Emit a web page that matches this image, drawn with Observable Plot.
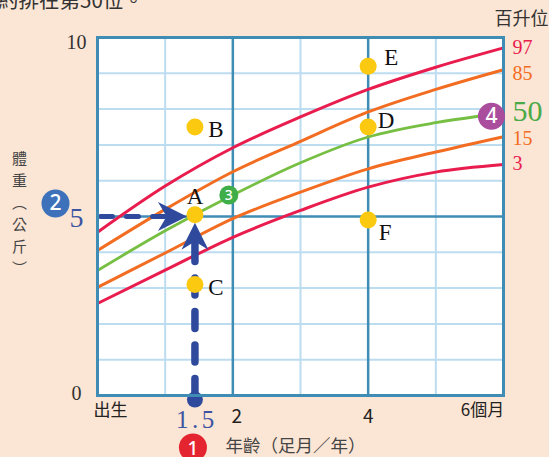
<!DOCTYPE html>
<html><head><meta charset="utf-8">
<script src="https://cdn.jsdelivr.net/npm/d3@7"></script>
<script src="https://cdn.jsdelivr.net/npm/@observablehq/plot@0.6"></script>
<style>
html,body{margin:0;padding:0;background:#fbe5d4;}
#chart{width:549px;height:457px;overflow:hidden;}
.ls text{letter-spacing:3.5px;}
</style></head><body><div id="chart"></div>
<script>
// ---- data ----
const months = [0, 1, 2, 3, 4, 5, 6];
const p97 = [4.56, 5.85, 6.92, 7.78, 8.55, 9.17, 9.71];
const p85 = [4.05, 5.2, 6.25, 7.1, 7.92, 8.55, 9.1];
const p50Months = [0, 1, 2, 3, 4, 5, 5.63];
const p50 = [3.49, 4.6, 5.6, 6.5, 7.22, 7.62, 7.8];
const p15 = [3.02, 3.98, 4.94, 5.68, 6.33, 6.8, 7.23];
const p3 = [2.57, 3.5, 4.42, 5.17, 5.82, 6.24, 6.45];
const pctNames = ["97", "85", "50", "15", "3"];

const pointLabels = ["A", "B", "C", "D", "E", "F"];
const pointMonths = [1.44, 1.44, 1.44, 4, 4, 4];
const pointWeights = [5.05, 7.5, 3.1, 7.5, 9.2, 4.9];

const xTickValues = [0, 2, 4, 6];
const xTickLabels = ["出生", "2", "4", "6個月"];
const yTickLabels = ["0", "10"];
const yTitleChars = ["體", "重", "︵", "公", "斤", "︶"];
const minorMonths = [1, 3, 5];
const majorMonths = [2, 4];
const minorKg = [1, 2, 3, 4, 6, 7, 8, 9];
const majorKg = [5];

// ---- styles ----
const RED = "#e91c4e", ORANGE = "#f26d21", GREEN = "#77bf43";
const NAVY = "#2f4a9c", BLUE5 = "#3d54a3";
const LIGHT = "#bcdcf0", DARK = "#3f8cb5";
const CJK = "'Noto Sans CJK TC','Noto Sans CJK SC',sans-serif";
const SERIF = "'Liberation Serif','DejaVu Serif',serif";

const series = [
  {name: pctNames[0], xs: months, ys: p97, color: RED, w: 3, dy: 0},
  {name: pctNames[1], xs: months, ys: p85, color: ORANGE, w: 3, dy: 4},
  {name: pctNames[2], xs: p50Months, ys: p50, color: GREEN, w: 2.8, dy: -5},
  {name: pctNames[3], xs: months, ys: p15, color: ORANGE, w: 3, dy: 2},
  {name: pctNames[4], xs: months, ys: p3, color: RED, w: 3, dy: -1}
];

const A = {x: pointMonths[0], y: pointWeights[0]};
const points = pointLabels.map((l, i) => ({label: l, x: pointMonths[i], y: pointWeights[i]}));
const labelOffsets = {A: [0, -18], B: [21, 3], C: [21, 3], D: [18, -6], E: [23, -9], F: [17, 13]};
const xTickOffsets = {"出生": [13, 15], "2": [4, 21], "4": [0, 21], "6個月": [-21, 15]};

const arrowHead = {
  draw(ctx, l) {
    const w = l * 0.5;
    ctx.moveTo(0, -l);
    ctx.lineTo(w, 0);
    ctx.lineTo(0, -l * 0.3);
    ctx.lineTo(-w, 0);
    ctx.closePath();
  }
};

const marks = [];
marks.push(Plot.frame({fill: "white", stroke: "none"}));
marks.push(Plot.ruleX(minorMonths, {stroke: LIGHT, strokeWidth: 2}));
marks.push(Plot.ruleY(minorKg, {stroke: LIGHT, strokeWidth: 2}));
marks.push(Plot.ruleX(majorMonths, {stroke: DARK, strokeWidth: 2.5}));
marks.push(Plot.ruleY(majorKg, {stroke: DARK, strokeWidth: 2.5}));

for (const s of series) {
  const rows = s.xs.map((x, i) => ({x, y: s.ys[i]}));
  marks.push(Plot.line(rows, {x: "x", y: "y", stroke: s.color, strokeWidth: s.w, curve: "monotone-x"}));
}

// dashed guides
marks.push(Plot.line([{x: 0, y: 5}, {x: A.x - 0.45, y: 5}], {
  x: "x", y: "y", stroke: NAVY, strokeWidth: 5, strokeDasharray: "12,14", strokeDashoffset: -3
}));
marks.push(Plot.line([{x: A.x, y: 0}, {x: A.x, y: A.y - 0.75}], {
  x: "x", y: "y", stroke: NAVY, strokeWidth: 7.5, strokeDasharray: "17,16.5"
}));
marks.push(Plot.vector([A], {x: "x", y: 5, rotate: 90, length: 29, anchor: "end", shape: arrowHead, fill: NAVY, stroke: "none", dx: -8}));
marks.push(Plot.vector([A], {x: "x", y: "y", rotate: 0, length: 27, anchor: "end", shape: arrowHead, fill: NAVY, stroke: "none", dy: 8}));
marks.push(Plot.dot([A], {x: "x", y: 0, r: 8, fill: NAVY, stroke: "none", dy: 4}));

// points
marks.push(Plot.dot(points, {x: "x", y: "y", r: 8.5, fill: "#fcc911", stroke: "none"}));
for (const p of points) {
  const [dx, dy] = labelOffsets[p.label];
  marks.push(Plot.text([p], {x: "x", y: "y", text: "label", dx, dy, fontSize: 23, fontFamily: SERIF, fill: "#111", textAnchor: "middle", lineAnchor: "middle"}));
}

marks.push(Plot.frame({stroke: DARK, strokeWidth: 3}));

// percentile labels
for (const s of series) {
  const last = s.xs.length - 1;
  const big = s.name === "50";
  marks.push(Plot.text([s], {
    x: 6, y: s.ys[last], text: d => d.name, dx: 9, dy: s.dy, textAnchor: "start", lineAnchor: "middle",
    fontSize: big ? 30 : 20, fontFamily: SERIF, fill: big ? "#4aaa48" : s.color
  }));
}
marks.push(Plot.text(["百升位"], {frameAnchor: "top-right", text: d => d, dx: 45, dy: -18, textAnchor: "end", lineAnchor: "middle", fontSize: 18, fontFamily: CJK, fill: "#333"}));

// axes labels
xTickValues.forEach((v, i) => {
  const [dx, dy] = xTickOffsets[xTickLabels[i]];
  marks.push(Plot.text([v], {x: d => d, text: () => xTickLabels[i], frameAnchor: "bottom", dx, dy, textAnchor: "middle", lineAnchor: "middle", fontSize: i === 1 || i === 2 ? 19 : 17, fontFamily: CJK, fill: "#222"}));
});
marks.push(Plot.text(["1.5"], {x: A.x, text: d => d, frameAnchor: "bottom", dy: 24, dx: 2, textAnchor: "middle", lineAnchor: "middle", fontSize: 25, fontFamily: SERIF, fill: BLUE5, className: "ls"}));
marks.push(Plot.text([0], {y: d => d, text: () => yTickLabels[0], frameAnchor: "left", dx: -16, dy: -2, textAnchor: "end", lineAnchor: "middle", fontSize: 20, fontFamily: SERIF, fill: "#333"}));
marks.push(Plot.text([10], {y: d => d, text: () => yTickLabels[1], frameAnchor: "left", dx: -11, dy: 5, textAnchor: "end", lineAnchor: "middle", fontSize: 20, fontFamily: SERIF, fill: "#333"}));
marks.push(Plot.text(["5"], {y: 5, text: d => d, frameAnchor: "left", dx: -14, dy: 2, textAnchor: "end", lineAnchor: "middle", fontSize: 28, fontFamily: SERIF, fill: BLUE5}));
yTitleChars.forEach((c, i) => {
  marks.push(Plot.text([c], {frameAnchor: "top-left", text: d => d, dx: -78, dy: 122 + i * 22, textAnchor: "middle", lineAnchor: "middle", fontSize: 15, fontFamily: CJK, fill: "#444"}));
});
marks.push(Plot.text(["年齡（足月／年）"], {x: 3, text: d => d, frameAnchor: "bottom", dy: 51, dx: -5, textAnchor: "middle", lineAnchor: "middle", fontSize: 17.5, fontFamily: CJK, fill: "#444"}));
marks.push(Plot.text(["重約排在第50位。"], {frameAnchor: "top-left", text: d => d, dx: -120, dy: -36, textAnchor: "start", lineAnchor: "middle", fontSize: 20.5, fontFamily: CJK, fill: "#333"}));

// badges
const badges = [
  {t: "1", c: "#e42530", r: 14, fs: 19, tdy: 1, opt: {x: A.x, frameAnchor: "bottom", dx: -2, dy: 52}},
  {t: "2", c: "#3d72bb", r: 14, fs: 21, tdy: 0, opt: {y: 5, frameAnchor: "left", dx: -42, dy: -13}},
  {t: "3", c: "#3fae49", r: 9.5, fs: 14, tdy: 0, opt: {x: majorMonths[0], y: p50[2], dx: -4}},
  {t: "4", c: "#a94d9c", r: 13.5, fs: 21, tdy: 0, opt: {x: p50Months[6], y: p50[6], dx: 13}}
];
for (const b of badges) {
  marks.push(Plot.dot([b], {...b.opt, r: b.r, fill: b.c, stroke: "none"}));
  marks.push(Plot.text([b], {...b.opt, dy: (b.opt.dy || 0) + b.tdy, text: d => d.t, textAnchor: "middle", lineAnchor: "middle", fill: "white", fontSize: b.fs, fontFamily: "'Noto Sans',sans-serif", fontWeight: "500"}));
}

const chart = Plot.plot({
  width: 549, height: 457,
  marginLeft: 97, marginRight: 46, marginTop: 37, marginBottom: 62,
  x: {domain: [0, 6], axis: null},
  y: {domain: [0, 10], axis: null},
  style: {background: "transparent", overflow: "hidden", fontFamily: CJK},
  marks
});
document.getElementById("chart").appendChild(chart);
</script></body></html>
